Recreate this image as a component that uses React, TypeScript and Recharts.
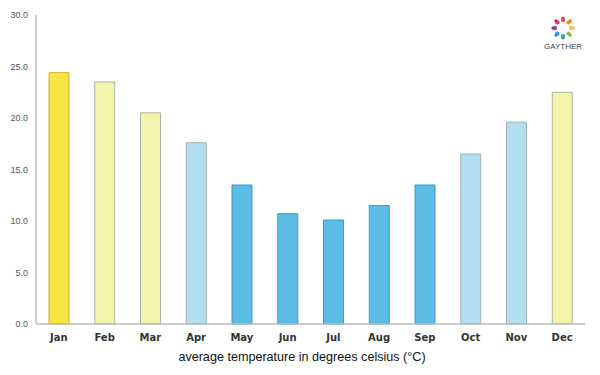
import React from "react";
import { BarChart, Bar, XAxis, YAxis, Cell } from "recharts";

const months = ["Jan", "Feb", "Mar", "Apr", "May", "Jun", "Jul", "Aug", "Sep", "Oct", "Nov", "Dec"];
const temps = [24.4, 23.5, 20.5, 17.6, 13.5, 10.7, 10.1, 11.5, 13.5, 16.5, 19.6, 22.5];
const yTicks = [0, 5, 10, 15, 20, 25, 30];
const fills = ["#f9e443", "#f2f4ac", "#f2f4ac", "#b1dff0", "#5bbde6", "#5bbde6", "#5bbde6", "#5bbde6", "#5bbde6", "#b1dff0", "#b1dff0", "#f2f4ac"];
const strokes = ["#c9b530", "#b0b0a0", "#b0b0a0", "#9fb0b8", "#3d9cc4", "#3d9cc4", "#3d9cc4", "#3d9cc4", "#3d9cc4", "#9fb0b8", "#9fb0b8", "#b0b0a0"];
const logoColors = ["#e53935", "#f57c00", "#fbc02d", "#7cb342", "#26a69a", "#1e88e5", "#8e24aa", "#d81b60"];

const data = months.map((m, i) => ({ month: m, temp: temps[i] }));

function Logo() {
  const cx = 563;
  const cy = 28;
  const r = 8;
  return (
    <svg width={600} height={375} style={{ position: "absolute", left: 0, top: 0, pointerEvents: "none" }}>
      {logoColors.map((c, i) => {
        const a = (i / logoColors.length) * Math.PI * 2 - Math.PI / 2;
        return (
          <g key={i}>
            <circle cx={cx + Math.cos(a) * (r + 2)} cy={cy + Math.sin(a) * (r + 2)} r={1.6} fill={c} />
            <circle cx={cx + Math.cos(a) * r} cy={cy + Math.sin(a) * r} r={2.2} fill={c} opacity={0.85} />
          </g>
        );
      })}
      <text x={cx} y={49} textAnchor="middle" fontSize={8} fontFamily="'Liberation Sans', Arial, sans-serif" fill="#444">
        GAYTHER
      </text>
    </svg>
  );
}

export default function App() {
  return (
    <div style={{ position: "absolute", left: 0, top: 0, width: 600, height: 375, background: "#fff" }}>
      <BarChart width={600} height={375} data={data} margin={{ top: 15, right: 15, left: 0, bottom: 21 }} barCategoryGap="28%">
        <XAxis
          dataKey="month"
          tickLine={false}
          tickSize={0}
          tickMargin={10}
          axisLine={{ stroke: "#bbbbbb", strokeWidth: 1.5 }}
          height={30}
          tick={{ fontSize: 10, fontWeight: "bold", fill: "#333", fontFamily: "'DejaVu Sans', sans-serif" }}
        />
        <YAxis
          width={36}
          domain={[0, 30]}
          ticks={yTicks}
          tickFormatter={(v: number) => v.toFixed(1)}
          tickLine={false}
          tickSize={0}
          tickMargin={8}
          axisLine={{ stroke: "#cccccc", strokeWidth: 2 }}
          tick={{ fontSize: 9, fill: "#555", fontFamily: "'Liberation Sans', Arial, sans-serif" }}
        />
        <Bar dataKey="temp" isAnimationActive={false} barSize={20}>
          {data.map((d, i) => (
            <Cell key={d.month} fill={fills[i]} stroke={strokes[i]} strokeWidth={1} />
          ))}
        </Bar>
      </BarChart>
      <div
        style={{
          position: "absolute",
          left: 0,
          width: 604,
          top: 350,
          textAlign: "center",
          fontFamily: "'Liberation Sans', Arial, sans-serif",
          fontSize: 12.6,
          color: "#111",
        }}
      >
        average temperature in degrees celsius (°C)
      </div>
      <Logo />
    </div>
  );
}
